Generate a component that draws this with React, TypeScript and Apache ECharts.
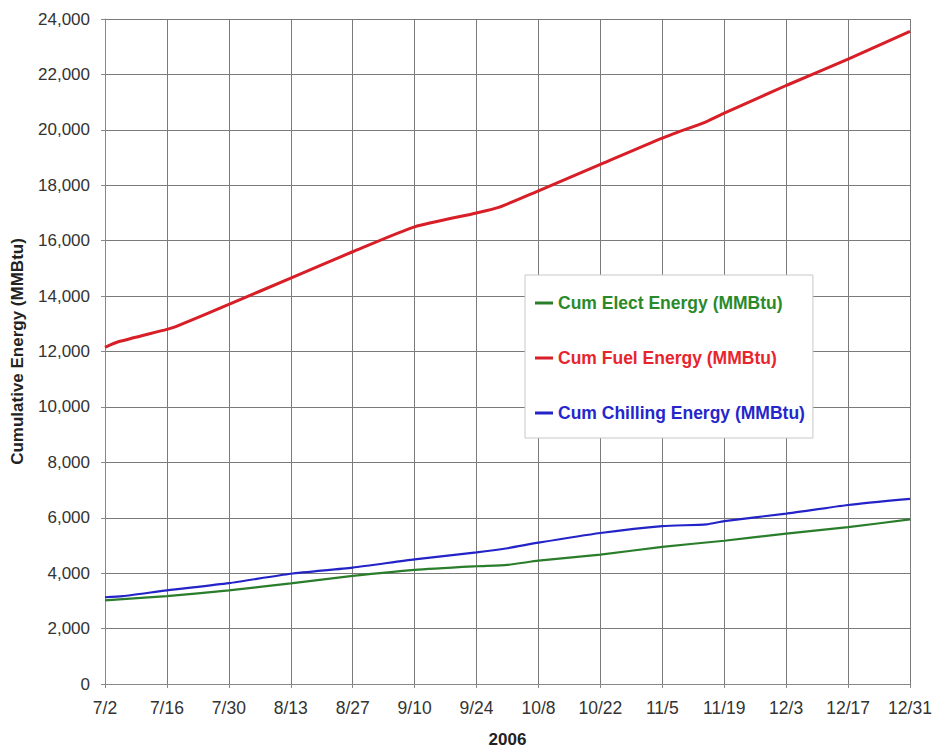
import React, { useEffect, useRef } from "react";
import * as echarts from "echarts";

// days since 2006-07-02
const xTickDays = [0, 14, 28, 42, 56, 70, 84, 98, 112, 126, 140, 154, 168, 182];
const xTickLabels = ["7/2", "7/16", "7/30", "8/13", "8/27", "9/10", "9/24", "10/8", "10/22", "11/5", "11/19", "12/3", "12/17", "12/31"];

const fuelDays = [0, 3, 14, 16, 28, 42, 56, 70, 84, 89, 98, 112, 126, 136, 140, 154, 168, 182];
const fuelValues = [12150, 12350, 12800, 12900, 13700, 14650, 15600, 16500, 17000, 17200, 17800, 18750, 19700, 20300, 20600, 21600, 22550, 23550];

const electDays = [0, 14, 28, 42, 56, 70, 84, 91, 98, 112, 126, 140, 154, 168, 182];
const electValues = [3020, 3170, 3380, 3630, 3900, 4120, 4250, 4300, 4450, 4670, 4950, 5170, 5430, 5660, 5940];

const chillDays = [0, 4, 14, 28, 42, 56, 70, 84, 91, 98, 112, 126, 136, 140, 154, 168, 182];
const chillValues = [3130, 3170, 3380, 3640, 3980, 4200, 4500, 4750, 4900, 5100, 5450, 5700, 5760, 5880, 6150, 6460, 6680];

const seriesNames = ["Cum Elect Energy (MMBtu)", "Cum Fuel Energy (MMBtu)", "Cum Chilling Energy (MMBtu)"];
const lineColors = ["#2a7d2a", "#d81e26", "#2323c8"];
const textColors = ["#2a8a2a", "#e8242c", "#2626cc"];

const pair = (d: number[], v: number[]) => d.map((x, i) => [x, v[i]]);

export default function App() {
  const ref = useRef<HTMLDivElement>(null);
  useEffect(() => {
    if (!ref.current) return;
    const chart = echarts.init(ref.current, undefined, { renderer: "svg" });
    const font = "Arial, 'Liberation Sans', sans-serif";
    const dataSets = [pair(electDays, electValues), pair(fuelDays, fuelValues), pair(chillDays, chillValues)];
    chart.setOption({
      animation: false,
      backgroundColor: "#ffffff",
      textStyle: { fontFamily: font },
      grid: { left: 105, right: 25, top: 19, bottom: 66, containLabel: false },
      legend: {
        orient: "vertical",
        left: 525,
        top: 275,
        padding: [19, 8, 16, 10],
        backgroundColor: "#ffffff",
        borderColor: "#c8c8c8",
        borderWidth: 1,
        itemGap: 37,
        itemWidth: 18,
        itemHeight: 3,
        icon: "rect",
        data: seriesNames.map((n, i) => ({
          name: n,
          textStyle: { color: textColors[i], fontWeight: "bold", fontSize: 17.5, fontFamily: font },
        })),
        textStyle: { fontWeight: "bold", fontSize: 17.5 },
      },
      xAxis: {
        type: "value",
        min: 0,
        max: 182,
        interval: 14,
        name: "2006",
        nameLocation: "middle",
        nameGap: 47,
        nameTextStyle: { fontWeight: "bold", fontSize: 17, color: "#222" },
        axisLine: { show: true, lineStyle: { color: "#888", width: 1 } },
        axisTick: { show: true, length: 4, lineStyle: { color: "#888" } },
        axisLabel: {
          fontSize: 17.5,
          color: "#333",
          margin: 15,
          formatter: (v: number) => {
            const i = xTickDays.indexOf(v);
            return i >= 0 ? xTickLabels[i] : "";
          },
        },
        splitLine: { show: true, lineStyle: { color: "#7a7a7a", width: 1 } },
      },
      yAxis: {
        type: "value",
        min: 0,
        max: 24000,
        interval: 2000,
        name: "Cumulative Energy (MMBtu)",
        nameLocation: "middle",
        nameGap: 79,
        nameRotate: 90,
        nameTextStyle: { fontWeight: "bold", fontSize: 17, color: "#222" },
        axisLine: { show: true, lineStyle: { color: "#888", width: 1 } },
        axisTick: { show: true, length: 4, lineStyle: { color: "#888" } },
        axisLabel: {
          fontSize: 17,
          color: "#333",
          margin: 15,
          formatter: (v: number) => v.toLocaleString("en-US"),
        },
        splitLine: { show: true, lineStyle: { color: "#7a7a7a", width: 1 } },
      },
      series: seriesNames.map((n, i) => ({
        name: n,
        type: "line",
        data: dataSets[i],
        showSymbol: false,
        symbol: "none",
        smooth: 0.2,
        lineStyle: { color: lineColors[i], width: i === 1 ? 3 : 2.2 },
        itemStyle: { color: lineColors[i] },
        z: i === 0 ? 3 : 4,
      })),
    });
    return () => chart.dispose();
  }, []);
  return <div ref={ref} style={{ width: 935, height: 753, position: "absolute", left: 0, top: 0 }} />;
}
